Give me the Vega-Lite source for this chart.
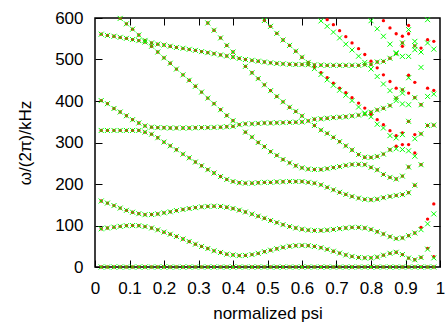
{
"$schema":"https://vega.github.io/schema/vega-lite/v6.json",
"width":345,"height":249,
"autosize":{"type":"none"},
"padding":{"left":95,"top":18,"right":5,"bottom":60},
"background":"white",
"config":{"view":{"stroke":"black","strokeWidth":1.5},"font":"Liberation Sans"},
"data":{"values":[
{"x":0.018,"y":0},{"x":0.036,"y":0},{"x":0.055,"y":0},{"x":0.073,"y":0},{"x":0.091,"y":0},{"x":0.109,"y":0},{"x":0.127,"y":0},{"x":0.145,"y":0},{"x":0.164,"y":0},{"x":0.182,"y":0},{"x":0.2,"y":0},{"x":0.218,"y":0},{"x":0.236,"y":0},{"x":0.255,"y":0},{"x":0.273,"y":0},{"x":0.291,"y":0},{"x":0.309,"y":0},{"x":0.327,"y":0},{"x":0.345,"y":0},{"x":0.364,"y":0},{"x":0.382,"y":0},{"x":0.4,"y":0},{"x":0.418,"y":0},{"x":0.436,"y":0},{"x":0.455,"y":0},{"x":0.473,"y":0},{"x":0.491,"y":0},{"x":0.509,"y":0},{"x":0.527,"y":0},{"x":0.545,"y":0},{"x":0.564,"y":0},{"x":0.582,"y":0},{"x":0.6,"y":0},{"x":0.618,"y":0},{"x":0.636,"y":0},{"x":0.655,"y":0},{"x":0.673,"y":0},{"x":0.691,"y":0},{"x":0.709,"y":0},{"x":0.727,"y":0},{"x":0.745,"y":0},{"x":0.764,"y":0},{"x":0.782,"y":0},{"x":0.8,"y":0},{"x":0.818,"y":0},{"x":0.836,"y":0},{"x":0.855,"y":0},{"x":0.873,"y":0},{"x":0.891,"y":0},{"x":0.909,"y":0},{"x":0.927,"y":0},{"x":0.945,"y":0},{"x":0.964,"y":0},{"x":0.982,"y":0},
{"x":0.018,"y":92},{"x":0.036,"y":94},{"x":0.055,"y":96},{"x":0.073,"y":98},{"x":0.091,"y":99.5},{"x":0.109,"y":100},{"x":0.127,"y":99.5},{"x":0.145,"y":97.5},{"x":0.164,"y":94},{"x":0.182,"y":89.5},{"x":0.2,"y":84},{"x":0.218,"y":79},{"x":0.236,"y":73.5},{"x":0.255,"y":67.5},{"x":0.273,"y":61.5},{"x":0.291,"y":55},{"x":0.309,"y":49.5},{"x":0.327,"y":44.5},{"x":0.345,"y":39},{"x":0.364,"y":35},{"x":0.382,"y":31},{"x":0.4,"y":29},{"x":0.418,"y":27.5},{"x":0.436,"y":28},{"x":0.455,"y":30},{"x":0.473,"y":33},{"x":0.491,"y":37},{"x":0.509,"y":40.5},{"x":0.527,"y":44},{"x":0.545,"y":47.5},{"x":0.564,"y":50},{"x":0.582,"y":51.5},{"x":0.6,"y":52},{"x":0.618,"y":51.5},{"x":0.636,"y":49.5},{"x":0.655,"y":46.5},{"x":0.673,"y":42.5},{"x":0.691,"y":38},{"x":0.709,"y":33.5},{"x":0.727,"y":29},{"x":0.745,"y":25.5},{"x":0.764,"y":23},{"x":0.782,"y":22},{"x":0.8,"y":22},{"x":0.818,"y":24},{"x":0.836,"y":28.5},{"x":0.855,"y":33},{"x":0.873,"y":35.5},{"x":0.891,"y":30},{"x":0.909,"y":21.5},{"x":0.927,"y":17.5},{"x":0.945,"y":23},{"x":0.964,"y":45,"s":"r"},{"x":0.964,"y":43,"s":"g"},{"x":0.982,"y":25,"s":"r"},{"x":0.982,"y":22,"s":"g"},
{"x":0.018,"y":159},{"x":0.036,"y":154},{"x":0.055,"y":148},{"x":0.073,"y":142},{"x":0.091,"y":136.5},{"x":0.109,"y":132},{"x":0.127,"y":128.5},{"x":0.145,"y":126},{"x":0.164,"y":126.5},{"x":0.182,"y":128},{"x":0.2,"y":130.5},{"x":0.218,"y":133},{"x":0.236,"y":136},{"x":0.255,"y":138.5},{"x":0.273,"y":141},{"x":0.291,"y":143},{"x":0.309,"y":145},{"x":0.327,"y":146},{"x":0.345,"y":146.5},{"x":0.364,"y":146},{"x":0.382,"y":144},{"x":0.4,"y":141},{"x":0.418,"y":137},{"x":0.436,"y":132.5},{"x":0.455,"y":127.5},{"x":0.473,"y":122.5},{"x":0.491,"y":117.5},{"x":0.509,"y":112},{"x":0.527,"y":107},{"x":0.545,"y":102},{"x":0.564,"y":97.5},{"x":0.582,"y":94},{"x":0.6,"y":91},{"x":0.618,"y":89},{"x":0.636,"y":88},{"x":0.655,"y":88},{"x":0.673,"y":89},{"x":0.691,"y":90.5},{"x":0.709,"y":92.5},{"x":0.727,"y":94},{"x":0.745,"y":95.5},{"x":0.764,"y":95.5},{"x":0.782,"y":94},{"x":0.8,"y":90.5},{"x":0.818,"y":85},{"x":0.836,"y":79.5},{"x":0.855,"y":73},{"x":0.873,"y":68.5},{"x":0.891,"y":70},{"x":0.909,"y":75.5},{"x":0.927,"y":82},{"x":0.945,"y":95.5,"s":"r"},{"x":0.945,"y":90,"s":"g"},{"x":0.964,"y":115.5,"s":"r"},{"x":0.964,"y":104,"s":"g"},{"x":0.982,"y":152,"s":"r"},{"x":0.982,"y":128,"s":"g"},
{"x":0.018,"y":329},{"x":0.036,"y":329},{"x":0.055,"y":329},{"x":0.073,"y":329},{"x":0.091,"y":329},{"x":0.109,"y":329},{"x":0.127,"y":329},{"x":0.145,"y":325},{"x":0.164,"y":320},{"x":0.182,"y":311.5},{"x":0.2,"y":301},{"x":0.218,"y":292},{"x":0.236,"y":282.5},{"x":0.255,"y":272},{"x":0.273,"y":263},{"x":0.291,"y":253},{"x":0.309,"y":244},{"x":0.327,"y":234.5},{"x":0.345,"y":226.5},{"x":0.364,"y":218},{"x":0.382,"y":211},{"x":0.4,"y":206},{"x":0.418,"y":203},{"x":0.436,"y":202},{"x":0.455,"y":202},{"x":0.473,"y":203},{"x":0.491,"y":204},{"x":0.509,"y":204},{"x":0.527,"y":205},{"x":0.545,"y":205.5},{"x":0.564,"y":206},{"x":0.582,"y":206},{"x":0.6,"y":206},{"x":0.618,"y":204},{"x":0.636,"y":202},{"x":0.655,"y":198},{"x":0.673,"y":192},{"x":0.691,"y":186},{"x":0.709,"y":180},{"x":0.727,"y":175},{"x":0.745,"y":170},{"x":0.764,"y":166},{"x":0.782,"y":163},{"x":0.8,"y":162},{"x":0.818,"y":163.5},{"x":0.836,"y":167},{"x":0.855,"y":170},{"x":0.873,"y":172.5},{"x":0.891,"y":174.5},{"x":0.909,"y":179},{"x":0.927,"y":197},{"x":0.945,"y":246.5},
{"x":0.018,"y":401},{"x":0.036,"y":393.5},{"x":0.055,"y":382},{"x":0.073,"y":373.5},{"x":0.091,"y":364.5},{"x":0.109,"y":355},{"x":0.127,"y":347},{"x":0.145,"y":340},{"x":0.164,"y":337},{"x":0.182,"y":336},{"x":0.2,"y":335.5},{"x":0.218,"y":335},{"x":0.236,"y":335},{"x":0.255,"y":335},{"x":0.273,"y":335},{"x":0.291,"y":335.5},{"x":0.309,"y":336},{"x":0.327,"y":336},{"x":0.345,"y":336.5},{"x":0.364,"y":337},{"x":0.382,"y":338},{"x":0.4,"y":339},
{"x":0.418,"y":343},{"x":0.436,"y":345},{"x":0.455,"y":345},{"x":0.473,"y":346},{"x":0.491,"y":347},{"x":0.509,"y":347},{"x":0.527,"y":347.5},{"x":0.545,"y":348},{"x":0.564,"y":348.5},{"x":0.582,"y":349},{"x":0.6,"y":349.5},{"x":0.618,"y":352},{"x":0.636,"y":356},{"x":0.655,"y":357},{"x":0.673,"y":358.5},{"x":0.691,"y":360},{"x":0.709,"y":361},{"x":0.727,"y":362},{"x":0.745,"y":364},{"x":0.764,"y":366},{"x":0.782,"y":368.5},{"x":0.8,"y":373},{"x":0.818,"y":378.5},{"x":0.836,"y":382.5},{"x":0.855,"y":389},{"x":0.873,"y":407},
{"x":0.073,"y":599},{"x":0.091,"y":586},{"x":0.109,"y":573},{"x":0.127,"y":559},{"x":0.145,"y":546},{"x":0.164,"y":532},{"x":0.182,"y":518},{"x":0.2,"y":504},{"x":0.218,"y":491},{"x":0.236,"y":477},{"x":0.255,"y":463},{"x":0.273,"y":450},{"x":0.291,"y":435.5},{"x":0.309,"y":421.5},{"x":0.327,"y":407},{"x":0.345,"y":393.5},{"x":0.364,"y":379},{"x":0.382,"y":365},{"x":0.4,"y":352.5},
{"x":0.436,"y":325},{"x":0.455,"y":313},{"x":0.473,"y":300},{"x":0.491,"y":290},{"x":0.509,"y":278},{"x":0.527,"y":269},{"x":0.545,"y":259},{"x":0.564,"y":251},{"x":0.582,"y":244},{"x":0.6,"y":239},{"x":0.618,"y":236},{"x":0.636,"y":235},{"x":0.655,"y":235},{"x":0.673,"y":237},{"x":0.691,"y":239.5},{"x":0.709,"y":242},{"x":0.727,"y":245},{"x":0.745,"y":247},{"x":0.764,"y":247.5},{"x":0.782,"y":246.5},{"x":0.8,"y":240},{"x":0.818,"y":234},{"x":0.836,"y":223},{"x":0.855,"y":216},{"x":0.873,"y":212},{"x":0.891,"y":219},{"x":0.909,"y":241},{"x":0.927,"y":275,"s":"r"},{"x":0.927,"y":267,"s":"g"},
{"x":0.018,"y":561},{"x":0.036,"y":558},{"x":0.055,"y":556},{"x":0.073,"y":553.5},{"x":0.091,"y":551},{"x":0.109,"y":548},{"x":0.127,"y":545.5},{"x":0.145,"y":542},{"x":0.164,"y":540},{"x":0.182,"y":537},{"x":0.2,"y":535},{"x":0.218,"y":532},{"x":0.236,"y":529},{"x":0.255,"y":527},{"x":0.273,"y":524.5},{"x":0.291,"y":522},{"x":0.309,"y":519},{"x":0.327,"y":516.5},{"x":0.345,"y":514},{"x":0.364,"y":511},{"x":0.382,"y":508.5},{"x":0.4,"y":506},{"x":0.418,"y":502.5},{"x":0.436,"y":500},{"x":0.455,"y":498},{"x":0.473,"y":496},{"x":0.491,"y":494},{"x":0.509,"y":492},{"x":0.527,"y":490.5},{"x":0.545,"y":489.5},{"x":0.564,"y":488.5},{"x":0.582,"y":488},{"x":0.6,"y":488},{"x":0.618,"y":487.5},{"x":0.636,"y":487},{"x":0.655,"y":486.5},{"x":0.673,"y":486},{"x":0.691,"y":486},{"x":0.709,"y":486},{"x":0.727,"y":486},{"x":0.745,"y":486},{"x":0.764,"y":486},{"x":0.782,"y":487.5},{"x":0.8,"y":488},{"x":0.818,"y":494},{"x":0.836,"y":495.5},{"x":0.855,"y":503},{"x":0.873,"y":514},
{"x":0.327,"y":588},{"x":0.345,"y":570.5},{"x":0.364,"y":552},{"x":0.382,"y":534},{"x":0.4,"y":518},{"x":0.436,"y":483.5},{"x":0.455,"y":468},{"x":0.473,"y":454},{"x":0.491,"y":439},{"x":0.509,"y":425},{"x":0.527,"y":411},{"x":0.545,"y":398},{"x":0.564,"y":385},{"x":0.582,"y":375},{"x":0.6,"y":364},{"x":0.636,"y":341},{"x":0.655,"y":330},{"x":0.673,"y":322},{"x":0.691,"y":312.5},{"x":0.709,"y":302},{"x":0.727,"y":292},{"x":0.745,"y":282},{"x":0.764,"y":271},{"x":0.782,"y":264.5},{"x":0.8,"y":264},{"x":0.818,"y":266.5},{"x":0.836,"y":272},{"x":0.855,"y":282.5},{"x":0.873,"y":291,"s":"r"},{"x":0.873,"y":285,"s":"g"},{"x":0.891,"y":295,"s":"r"},{"x":0.891,"y":283,"s":"g"},{"x":0.909,"y":295,"s":"r"},{"x":0.909,"y":280,"s":"g"},
{"x":0.491,"y":594},{"x":0.509,"y":580},{"x":0.527,"y":563},{"x":0.545,"y":547},{"x":0.564,"y":534},{"x":0.582,"y":520},{"x":0.6,"y":505.5},{"x":0.618,"y":493},{"x":0.636,"y":481,"s":"r"},{"x":0.636,"y":478,"s":"g"},{"x":0.655,"y":468,"s":"r"},{"x":0.655,"y":464,"s":"g"},{"x":0.673,"y":456,"s":"r"},{"x":0.673,"y":451,"s":"g"},{"x":0.691,"y":443,"s":"r"},{"x":0.691,"y":438,"s":"g"},{"x":0.709,"y":431,"s":"r"},{"x":0.709,"y":426,"s":"g"},{"x":0.727,"y":420,"s":"r"},{"x":0.727,"y":414,"s":"g"},{"x":0.745,"y":408,"s":"r"},{"x":0.745,"y":401,"s":"g"},{"x":0.764,"y":395,"s":"r"},{"x":0.764,"y":385.5,"s":"g"},{"x":0.782,"y":383,"s":"r"},{"x":0.782,"y":371,"s":"g"},{"x":0.8,"y":368,"s":"r"},{"x":0.8,"y":362,"s":"g"},{"x":0.818,"y":355,"s":"r"},{"x":0.818,"y":344,"s":"g"},{"x":0.836,"y":343,"s":"r"},{"x":0.836,"y":335,"s":"g"},{"x":0.855,"y":328.5,"s":"r"},{"x":0.855,"y":316.5,"s":"g"},{"x":0.873,"y":316.5,"s":"r"},{"x":0.873,"y":311,"s":"g"},{"x":0.891,"y":323,"s":"r"},{"x":0.891,"y":319,"s":"g"},{"x":0.909,"y":351},
{"x":0.673,"y":596,"s":"r"},{"x":0.691,"y":584,"s":"r"},{"x":0.709,"y":569.5,"s":"r"},{"x":0.727,"y":555,"s":"r"},{"x":0.745,"y":540,"s":"r"},{"x":0.764,"y":526,"s":"r"},{"x":0.782,"y":512,"s":"r"},{"x":0.8,"y":496,"s":"r"},{"x":0.818,"y":480,"s":"r"},{"x":0.836,"y":463,"s":"r"},{"x":0.855,"y":447,"s":"r"},{"x":0.873,"y":431,"s":"r"},{"x":0.909,"y":419,"s":"r"},
{"x":0.655,"y":593,"s":"g"},{"x":0.673,"y":580,"s":"g"},{"x":0.691,"y":566,"s":"g"},{"x":0.709,"y":552,"s":"g"},{"x":0.727,"y":537,"s":"g"},{"x":0.745,"y":523,"s":"g"},{"x":0.764,"y":508,"s":"g"},{"x":0.782,"y":493,"s":"g"},{"x":0.8,"y":477,"s":"g"},{"x":0.818,"y":459,"s":"g"},{"x":0.836,"y":441,"s":"g"},{"x":0.855,"y":425,"s":"g"},{"x":0.873,"y":401,"s":"g"},{"x":0.891,"y":419,"s":"g"},{"x":0.909,"y":391,"s":"g"},{"x":0.891,"y":427},{"x":0.891,"y":393,"s":"g"},
{"x":0.8,"y":593.5,"s":"g"},{"x":0.818,"y":574,"s":"g"},{"x":0.836,"y":556,"s":"g"},{"x":0.855,"y":537,"s":"g"},{"x":0.873,"y":516,"s":"g"},{"x":0.891,"y":507.5,"s":"g"},{"x":0.909,"y":507.5,"s":"g"},{"x":0.927,"y":523.5,"s":"g"},
{"x":0.836,"y":593.5,"s":"r"},{"x":0.855,"y":576,"s":"r"},{"x":0.873,"y":562,"s":"r"},{"x":0.891,"y":556,"s":"r"},{"x":0.909,"y":562,"s":"r"},
{"x":0.891,"y":531.7,"s":"r"},{"x":0.891,"y":540},
{"x":0.909,"y":582,"s":"r"},{"x":0.909,"y":572,"s":"g"},{"x":0.909,"y":462,"s":"r"},{"x":0.909,"y":456,"s":"g"},
{"x":0.927,"y":408},{"x":0.927,"y":445,"s":"r"},{"x":0.927,"y":319,"s":"r"},{"x":0.927,"y":309,"s":"g"},{"x":0.927,"y":533},{"x":0.927,"y":543.7,"s":"g"},
{"x":0.945,"y":391},{"x":0.945,"y":321},{"x":0.945,"y":481,"s":"g"},{"x":0.945,"y":527.6,"s":"r"},{"x":0.945,"y":518,"s":"g"},
{"x":0.964,"y":341},{"x":0.964,"y":411,"s":"g"},{"x":0.964,"y":431,"s":"r"},{"x":0.964,"y":539.8,"s":"g"},{"x":0.964,"y":547.7,"s":"r"},{"x":0.964,"y":596,"s":"g"},
{"x":0.982,"y":342},{"x":0.982,"y":425.6,"s":"r"},{"x":0.982,"y":416.8,"s":"g"},{"x":0.982,"y":543.7,"s":"r"},{"x":0.982,"y":525,"s":"g"}
]},
"layer":[
{"transform":[{"filter":"datum.s != 'g'"}],
 "mark":{"type":"point","shape":"circle","filled":true,"size":11,"color":"#ff0000","opacity":1},
 "encoding":{
  "x":{"field":"x","type":"quantitative","scale":{"domain":[0,1],"nice":false,"zero":false},
   "axis":{"orient":"bottom","values":[0,0.1,0.2,0.3,0.4,0.5,0.6,0.7,0.8,0.9,1],"format":".1~f","domain":false,"grid":false,"tickSize":-7,"tickColor":"black","tickWidth":1,"labelPadding":20,"labelFont":"Liberation Sans","labelFontSize":17,"labelColor":"black","labelFlush":false,"labelOverlap":false,"title":"normalized psi","titleFont":"Liberation Sans","titleFontSize":17,"titleFontWeight":"normal","titleColor":"black","titlePadding":9}},
  "y":{"field":"y","type":"quantitative","scale":{"domain":[0,600],"nice":false},
   "axis":{"orient":"left","values":[0,100,200,300,400,500,600],"domain":false,"grid":false,"tickSize":-7,"tickColor":"black","tickWidth":1,"labelPadding":19,"labelFont":"Liberation Sans","labelFontSize":17,"labelColor":"black","labelFlush":false,"labelOverlap":false,"title":"ω/(2π)/kHz","titleFont":"Liberation Sans","titleFontSize":17,"titleFontWeight":"normal","titleColor":"black","titlePadding":20}}
 }},
{"transform":[{"filter":"datum.s != 'r'"}],
 "mark":{"type":"point","shape":"M-1,-1L1,1M-1,1L1,-1","filled":false,"size":25,"color":"#00ff00","strokeWidth":1,"opacity":1},
 "encoding":{
  "x":{"field":"x","type":"quantitative","scale":{"domain":[0,1],"nice":false,"zero":false},
   "axis":{"orient":"top","values":[0.1,0.2,0.3,0.4,0.5,0.6,0.7,0.8,0.9],"labels":false,"domain":false,"grid":false,"tickSize":-7,"tickColor":"black","tickWidth":1,"title":null}},
  "y":{"field":"y","type":"quantitative","scale":{"domain":[0,600],"nice":false},
   "axis":{"orient":"right","values":[100,200,300,400,500],"labels":false,"domain":false,"grid":false,"tickSize":-7,"tickColor":"black","tickWidth":1,"title":null}}
 }}
],
"resolve":{"axis":{"x":"independent","y":"independent"}}
}
